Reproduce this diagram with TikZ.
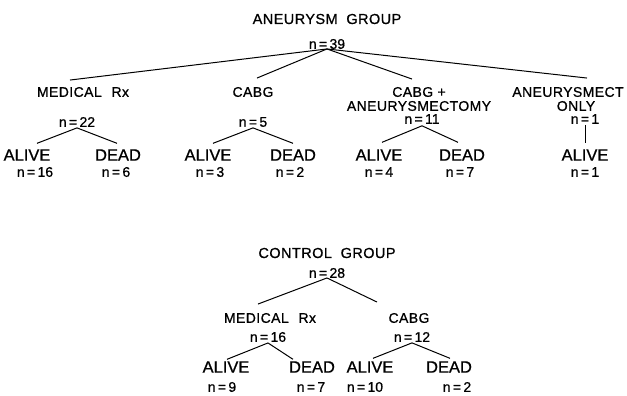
\documentclass[tikz,border=0pt]{standalone}
\usepackage{fontspec}
\setmainfont{Liberation Sans}[FakeBold=0.8]
\newfontfamily\trackedfont{Liberation Sans}[LetterSpace=3,FakeBold=0.8]
\newcommand{\cnteq}[1]{n\,=\,#1}

\begin{document}
\begin{tikzpicture}[x=1pt,y=-1pt,
  every node/.style={inner sep=0pt,outer sep=0pt},
  grp/.style={font=\trackedfont\fontsize{14.5}{16}\selectfont},
  cat/.style={font=\trackedfont\fontsize{14}{14}\selectfont,align=center},
  fate/.style={font=\fontsize{16.5}{18}\selectfont},
  cnt/.style={font=\fontsize{14}{16}\selectfont},
  branch/.style={line width=1pt},
  stem/.style={line width=0.6pt}]

\useasboundingbox (0,0) rectangle (627,396);

% ---------------- Aneurysm group ----------------
\node[grp] (ag) at (327,19) {ANEURYSM\hspace{0.6em}GROUP};
\node[cnt] (a39) at (327,44) {\cnteq{39}};

\node[cat] (med)   at (83,92)  {MEDICAL\hspace{0.7em}Rx};
\node[cat] (cabg)  at (253,92) {CABG};
\node[cat] (both)  at (419,99) {CABG +\\ANEURYSMECTOMY};
\node[cat] (aonly) at (568,99) {ANEURYSMECT\\\hspace*{16pt}ONLY};

\node[cnt] (m22) at (77,122)  {\cnteq{22}};
\node[cnt] (c5)  at (253,122) {\cnteq{5}};
\node[cnt] (b11) at (422,119) {\cnteq{11}};
\node[cnt] (o1)  at (585,119) {\cnteq{1}};

\node[fate] (mA) at (27,155)  {ALIVE};
\node[fate] (mD) at (118,155) {DEAD};
\node[fate] (cA) at (208,155) {ALIVE};
\node[fate] (cD) at (293,155) {DEAD};
\node[fate] (bA) at (379,155) {ALIVE};
\node[fate] (bD) at (462,155) {DEAD};
\node[fate] (oA) at (585,155) {ALIVE};

\node[cnt] (mAn) at (35,172)  {\cnteq{16}};
\node[cnt] (mDn) at (116,172) {\cnteq{6}};
\node[cnt] (cAn) at (210,172) {\cnteq{3}};
\node[cnt] (cDn) at (290,172) {\cnteq{2}};
\node[cnt] (bAn) at (379,172) {\cnteq{4}};
\node[cnt] (bDn) at (460,172) {\cnteq{7}};
\node[cnt] (oAn) at (585,172) {\cnteq{1}};

\draw[branch] (a39.south) -- ([xshift=-13pt,yshift=7pt]med.north);
\draw[branch] (a39.south) -- ([xshift=4pt,yshift=9pt]cabg.north);
\draw[branch] (a39.south) -- ([xshift=-7pt,yshift=8pt]both.north);
\draw[branch] (a39.south) -- ([xshift=19pt,yshift=9pt]aonly.north);

\draw[branch] ([yshift=-1pt]m22.south) -- ([xshift=10pt,yshift=6pt]mA.north);
\draw[branch] ([yshift=-1pt]m22.south) -- ([xshift=-1pt,yshift=6pt]mD.north);
\draw[branch] ([yshift=-1pt]c5.south) -- ([xshift=5pt,yshift=6pt]cA.north);
\draw[branch] ([yshift=-1pt]c5.south) -- ([yshift=6pt]cD.north);
\draw[branch] ([yshift=-2pt]b11.south) -- ([xshift=3pt,yshift=7pt]bA.north);
\draw[branch] ([yshift=-2pt]b11.south) -- ([xshift=-4pt,yshift=7pt]bD.north);
\draw[stem]   ([yshift=-1pt]o1.south) -- ([yshift=6pt]oA.north);

% ---------------- Control group ----------------
\node[grp] (cg)  at (327,253) {CONTROL\hspace{0.6em}GROUP};
\node[cnt] (c28) at (327,273) {\cnteq{28}};

\node[cat] (cmed)  at (270,318) {MEDICAL\hspace{0.7em}Rx};
\node[cat] (ccabg) at (409,318) {CABG};

\node[cnt] (c16) at (268,337) {\cnteq{16}};
\node[cnt] (c12) at (412,337) {\cnteq{12}};

\node[fate] (kA) at (226,367) {ALIVE};
\node[fate] (kD) at (312,367) {DEAD};
\node[fate] (gA) at (370,367) {ALIVE};
\node[fate] (gD) at (449,367) {DEAD};

\node[cnt] (kAn) at (222,387) {\cnteq{9}};
\node[cnt] (kDn) at (311,387) {\cnteq{7}};
\node[cnt] (gAn) at (365,387) {\cnteq{10}};
\node[cnt] (gDn) at (457,387) {\cnteq{2}};

\draw[branch] (c28.south) -- ([xshift=-12pt,yshift=9pt]cmed.north);
\draw[branch] (c28.south) -- ([xshift=-32pt,yshift=11pt]ccabg.north);

\draw[branch] ([yshift=-1pt]c16.south) -- ([xshift=1pt,yshift=2pt]kA.north);
\draw[branch] ([yshift=-1pt]c16.south) -- ([xshift=-19pt,yshift=2pt]kD.north);
\draw[branch] ([yshift=-1pt]c12.south) -- ([xshift=3pt,yshift=3pt]gA.north);
\draw[branch] ([yshift=-1pt]c12.south) -- ([xshift=1pt,yshift=3pt]gD.north);

\end{tikzpicture}
\end{document}
